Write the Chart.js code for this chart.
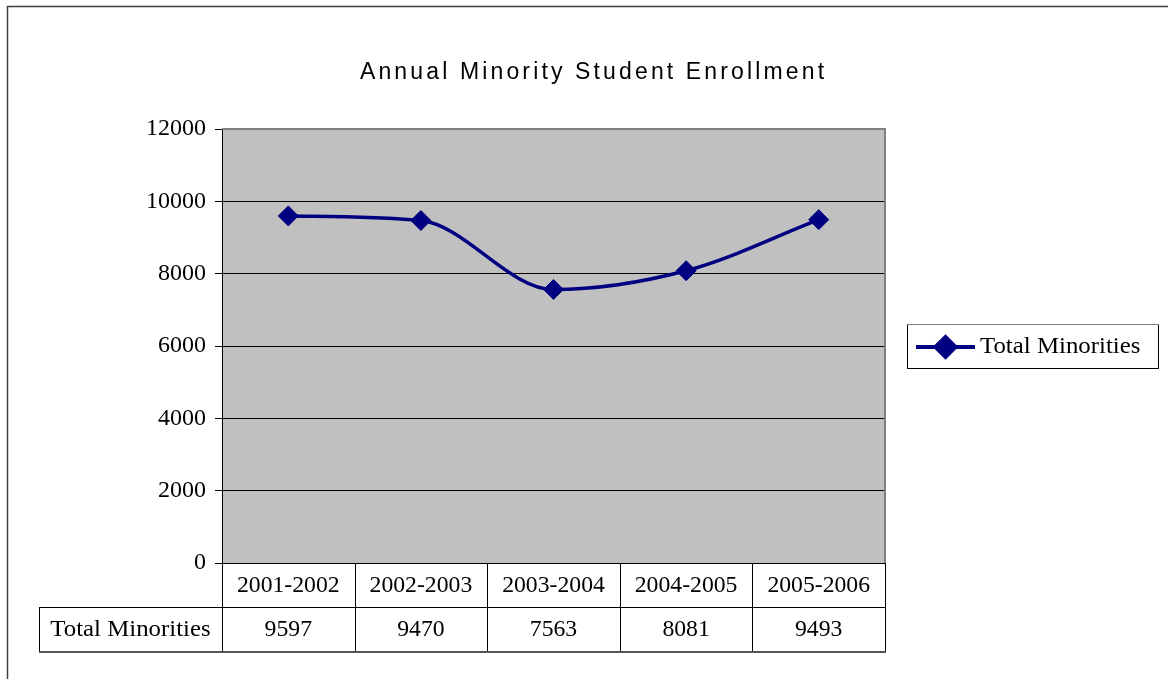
<!DOCTYPE html>
<html>
<head>
<meta charset="utf-8">
<title>Annual Minority Student Enrollment</title>
<script src="https://cdn.jsdelivr.net/npm/chart.js@4/dist/chart.umd.min.js"></script>
<style>
  html, body { margin: 0; padding: 0; background: #fff; }
  canvas { display: block; }
</style>
</head>
<body>
<canvas id="enrollChart" width="1168" height="679"></canvas>
<script>
// school years and minority headcount
var years = ['2001-2002', '2002-2003', '2003-2004', '2004-2005', '2005-2006'];
var totalMinorities = [9597, 9470, 7563, 8081, 9493];
var seriesName = 'Total Minorities';
var chartTitle = 'Annual Minority Student Enrollment';
var yTicks = [0, 2000, 4000, 6000, 8000, 10000, 12000];

var NAVY = '#000080';
var SERIF = '"Liberation Serif", "Times New Roman", serif';

// grey plot background + plot frame
var plotFrame = {
    id: 'plotFrame',
    beforeDraw: function(chart) {
        var a = chart.chartArea, ctx = chart.ctx;
        ctx.save();
        ctx.fillStyle = '#c0c0c0';
        ctx.fillRect(a.left, a.top, a.right - a.left, a.bottom - a.top);
        ctx.restore();
    },
    afterDatasetsDraw: function(chart) {
        var a = chart.chartArea, ctx = chart.ctx;
        ctx.save();
        ctx.strokeStyle = '#808080';
        ctx.lineWidth = 2;
        ctx.beginPath();
        ctx.moveTo(a.left, a.top);
        ctx.lineTo(a.right, a.top);
        ctx.lineTo(a.right, a.bottom);
        ctx.stroke();
        ctx.restore();
    }
};

function stretchedText(ctx, text, x, y, sx) {
    ctx.save();
    ctx.translate(x, y);
    ctx.scale(sx, 1);
    ctx.fillText(text, 0, 0);
    ctx.restore();
}

// data table under the x axis, columns follow the category scale
var dataTable = {
    id: 'dataTable',
    afterDraw: function(chart) {
        var ctx = chart.ctx, xs = chart.scales.x, a = chart.chartArea;
        var colW = xs.getPixelForValue(1) - xs.getPixelForValue(0);
        var top = a.bottom, mid = top + 44, bottom = mid + 45, headLeft = 39;
        var edges = [];
        for (var i = 0; i <= years.length; i++) edges.push(xs.getPixelForValue(0) - colW / 2 + i * colW);

        ctx.save();
        ctx.strokeStyle = '#000';
        ctx.lineWidth = 1;
        ctx.beginPath();
        edges.forEach(function(x) {
            ctx.moveTo(Math.round(x) + 0.5, top);
            ctx.lineTo(Math.round(x) + 0.5, bottom);
        });
        ctx.moveTo(headLeft + 0.5, mid);
        ctx.lineTo(headLeft + 0.5, bottom);
        ctx.moveTo(headLeft, mid + 0.5);
        ctx.lineTo(a.right, mid + 0.5);
        ctx.stroke();
        ctx.strokeStyle = '#555';
        ctx.lineWidth = 2;
        ctx.beginPath();
        ctx.moveTo(headLeft, bottom);
        ctx.lineTo(a.right + 1, bottom);
        ctx.stroke();

        ctx.fillStyle = '#000';
        ctx.font = '23px ' + SERIF;
        ctx.textAlign = 'center';
        ctx.textBaseline = 'middle';
        years.forEach(function(y, i) {
            var cx = xs.getPixelForValue(i);
            stretchedText(ctx, y, cx, top + 23, 1.03);
            stretchedText(ctx, String(totalMinorities[i]), cx, mid + 23, 1.03);
        });
        stretchedText(ctx, seriesName, (headLeft + edges[0]) / 2, mid + 23, 1.08);
        ctx.restore();
    }
};

// boxed legend with line + diamond sample
var sideLegend = {
    id: 'sideLegend',
    afterDraw: function(chart) {
        var ctx = chart.ctx, ds = chart.data.datasets[0];
        var bx = 907, by = 324, bw = 251, bh = 44, cy = by + bh / 2 + 1;
        ctx.save();
        ctx.fillStyle = '#fff';
        ctx.fillRect(bx, by, bw, bh);
        ctx.strokeStyle = '#000';
        ctx.lineWidth = 1;
        ctx.strokeRect(bx + 0.5, by + 0.5, bw, bh);
        ctx.strokeStyle = '#808080';
        ctx.beginPath();
        ctx.moveTo(bx, by + 0.5);
        ctx.lineTo(bx + bw + 1, by + 0.5);
        ctx.stroke();

        ctx.strokeStyle = ds.borderColor;
        ctx.lineWidth = 4;
        ctx.beginPath();
        ctx.moveTo(916, cy);
        ctx.lineTo(975, cy);
        ctx.stroke();
        Chart.helpers.drawPoint(ctx, {
            pointStyle: 'rectRot', radius: 10, borderWidth: 1, rotation: 0
        }, 945.5, cy);
        ctx.fillStyle = ds.backgroundColor;
        ctx.fill();

        ctx.fillStyle = '#000';
        ctx.font = '23px ' + SERIF;
        ctx.textAlign = 'left';
        ctx.textBaseline = 'middle';
        stretchedText(ctx, ds.label, 980, cy, 1.08);
        ctx.restore();
    }
};

// spaced sans title and the outer frame lines
var titleAndFrame = {
    id: 'titleAndFrame',
    afterDraw: function(chart) {
        var ctx = chart.ctx;
        ctx.save();
        ctx.strokeStyle = '#404040';
        ctx.lineWidth = 1.5;
        ctx.beginPath();
        ctx.moveTo(7.5, chart.height);
        ctx.lineTo(7.5, 6.5);
        ctx.lineTo(chart.width, 6.5);
        ctx.stroke();

        ctx.fillStyle = '#000';
        ctx.font = '23px "Liberation Sans", Arial, sans-serif';
        ctx.textBaseline = 'alphabetic';
        ctx.textAlign = 'left';
        var natural = ctx.measureText(chartTitle).width;
        var spacing = Math.max(0, (464 - natural) / (chartTitle.length - 1));
        ctx.letterSpacing = spacing.toFixed(2) + 'px';
        var w = ctx.measureText(chartTitle).width - spacing;
        ctx.fillText(chartTitle, 592 - w / 2, 79);
        ctx.restore();
    }
};

var ctx = document.getElementById('enrollChart').getContext('2d');
var chart = new Chart(ctx, {
    type: 'line',
    data: {
        labels: years,
        datasets: [{
            label: seriesName,
            data: totalMinorities,
            borderColor: NAVY,
            backgroundColor: NAVY,
            borderWidth: 3.5,
            cubicInterpolationMode: 'monotone',
            pointStyle: 'rectRot',
            pointRadius: 10,
            pointBorderWidth: 1,
            pointBackgroundColor: NAVY,
            pointBorderColor: NAVY,
            clip: false
        }]
    },
    options: {
        responsive: false,
        devicePixelRatio: 1,
        animation: false,
        events: [],
        layout: { padding: { top: 129, right: 283, bottom: 0, left: 0 } },
        plugins: {
            legend: { display: false },
            title: { display: false },
            tooltip: { enabled: false }
        },
        scales: {
            x: {
                type: 'category',
                offset: true,
                grid: { display: false },
                border: { display: true, color: '#000', width: 1 },
                ticks: { display: false },
                afterFit: function(scale) { scale.height = 116; }
            },
            y: {
                min: 0,
                max: 12000,
                afterBuildTicks: function(scale) {
                    scale.ticks = yTicks.map(function(v) { return { value: v }; });
                },
                ticks: {
                    color: '#000',
                    padding: 9,
                    font: { family: SERIF, size: 24 },
                    callback: function(v) { return String(v); }
                },
                grid: {
                    color: function(c) { return c.tick && c.tick.value === 12000 ? '#808080' : '#000'; },
                    lineWidth: 1,
                    tickLength: 7,
                    tickColor: '#000'
                },
                border: { display: true, color: '#000', width: 1 },
                afterFit: function(scale) { scale.width = 222; }
            }
        }
    },
    plugins: [plotFrame, dataTable, sideLegend, titleAndFrame]
});
</script>
</body>
</html>
